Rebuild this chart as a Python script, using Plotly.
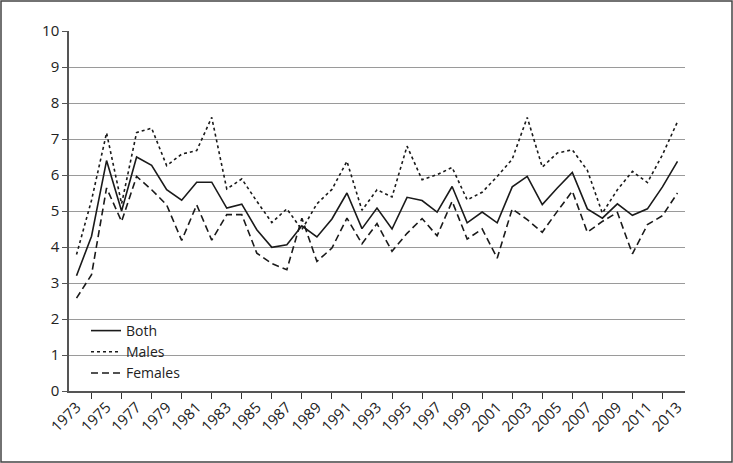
import plotly.graph_objects as go

years = list(range(1973, 2014))
both = [3.2, 4.3, 6.4, 5.0, 6.5, 6.27, 5.59, 5.3, 5.8, 5.8,
        5.08, 5.19, 4.48, 3.99, 4.06, 4.59, 4.28, 4.78, 5.5, 4.51,
        5.08, 4.5, 5.38, 5.29, 4.97, 5.68, 4.67, 4.97, 4.67, 5.67,
        5.96, 5.18, 5.64, 6.07, 5.06, 4.8, 5.2, 4.88, 5.06, 5.67, 6.38]
males = [3.79, 5.3, 7.17, 5.2, 7.18, 7.3, 6.26, 6.58, 6.68, 7.6,
         5.61, 5.89, 5.27, 4.68, 5.06, 4.48, 5.2, 5.6, 6.38, 5.02,
         5.59, 5.39, 6.8, 5.87, 6.01, 6.21, 5.31, 5.52, 5.96, 6.44,
         7.6, 6.22, 6.61, 6.7, 6.13, 4.94, 5.59, 6.1, 5.79, 6.56, 7.48]
females = [2.58, 3.23, 5.64, 4.71, 5.96, 5.59, 5.17, 4.18, 5.17, 4.19,
           4.9, 4.9, 3.83, 3.54, 3.37, 4.8, 3.6, 3.97, 4.8, 4.09,
           4.65, 3.88, 4.38, 4.79, 4.31, 5.27, 4.22, 4.5, 3.69, 5.06,
           4.76, 4.41, 4.99, 5.55, 4.41, 4.71, 4.96, 3.81, 4.62, 4.87, 5.5]
series_names = ["Both", "Males", "Females"]
label_years = list(range(1973, 2014, 2))
tick_years = list(range(1974, 2013, 2))
y_ticks = list(range(0, 11))

FONT = "Open Sans"
fig = go.Figure()
fig.add_trace(go.Scatter(x=years, y=both, mode="lines", name=series_names[0],
                         line=dict(color="#1a1a1a", width=1.6)))
fig.add_trace(go.Scatter(x=years, y=males, mode="lines", name=series_names[1],
                         line=dict(color="#1a1a1a", width=1.6, dash="dot")))
fig.add_trace(go.Scatter(x=years, y=females, mode="lines", name=series_names[2],
                         line=dict(color="#1a1a1a", width=1.6, dash="7px,4px")))

W, H = 733, 463
ml, mr, mt, mb = 69, 48, 31, 72
pw, ph = W - ml - mr, H - mt - mb

fig.update_layout(
    width=W, height=H,
    margin=dict(l=ml, r=mr, t=mt, b=mb),
    paper_bgcolor="white", plot_bgcolor="white",
    font=dict(family=FONT, size=15, color="#222"),
    showlegend=True,
    legend=dict(x=(86 - ml) / pw, y=(H - mb - 315) / ph, xanchor="left", yanchor="top",
                bgcolor="rgba(0,0,0,0)", font=dict(size=14), tracegroupgap=0,
                itemwidth=30),
    xaxis=dict(range=[1972.5, 2013.5], tickmode="array", tickvals=label_years,
               ticktext=[str(y) for y in label_years], tickangle=-45, ticks="",
               showgrid=False, showline=True, linecolor="#555", linewidth=1.5,
               zeroline=False,
               minor=dict(tickmode="array", tickvals=tick_years, ticks="outside",
                          ticklen=6, tickcolor="#333", tickwidth=1.2, showgrid=False)),
    yaxis=dict(range=[0, 10], tickmode="array", tickvals=y_ticks, ticks="outside",
               ticklen=5, tickcolor="#555", showgrid=True, gridcolor="#9a9a9a",
               gridwidth=1.2, showline=True, linecolor="#555", linewidth=1.5,
               zeroline=False),
)

# frame around whole image
fig.add_shape(type="rect", xref="paper", yref="paper",
              x0=(1 - ml) / pw, x1=(W - 1 - ml) / pw,
              y0=-(mb - 1) / ph, y1=1 + (mt - 1) / ph,
              line=dict(color="#444", width=1.5), layer="below")

fig.write_html("out.html", config={"displayModeBar": False},
               post_script="document.body.style.margin='0';document.body.style.overflow='hidden';")
